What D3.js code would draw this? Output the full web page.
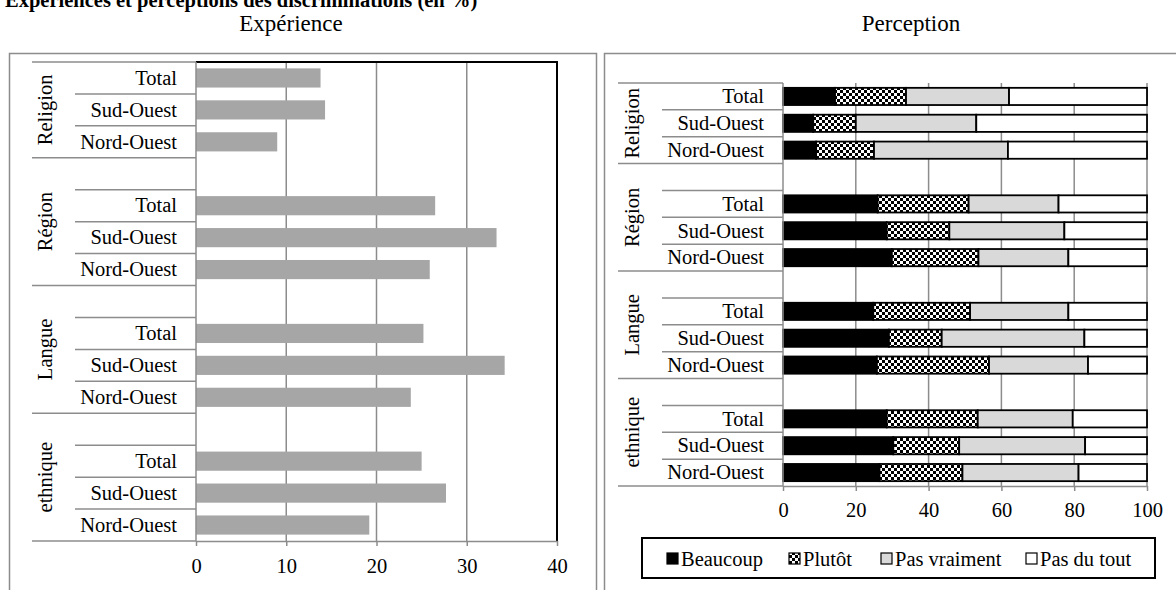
<!DOCTYPE html>
<html>
<head>
<meta charset="utf-8">
<title>Expériences et perceptions des discriminations</title>
<script src="https://d3js.org/d3.v7.min.js"></script>
<style>
  body { margin: 0; background: #fff; }
  text { font-family: "Liberation Serif", "Times New Roman", serif; fill: #000; }
</style>
</head>
<body>
<div id="chart"></div>
<script>
  // Categories
  const groups = ["Religion", "Région", "Langue", "ethnique"];
  const regions = ["Total", "Sud-Ouest", "Nord-Ouest"];

  // Expérience (%), order: group x region
  const experience = [13.8, 14.3, 9.0, 26.5, 33.3, 25.9, 25.2, 34.2, 23.8, 25.0, 27.7, 19.2];

  // Perception (%), same order
  const beaucoup    = [14.3, 8.3, 9.1, 26.0, 28.5, 29.9, 24.8, 29.1, 25.8, 28.5, 30.3, 26.5];
  const plutot      = [19.5, 11.7, 15.9, 25.0, 17.2, 23.8, 26.6, 14.5, 30.8, 25.0, 18.1, 22.8];
  const pasVraiment = [28.3, 33.1, 36.8, 24.7, 31.6, 24.7, 27.0, 39.2, 27.2, 26.1, 34.6, 31.9];
  const pasDuTout   = [37.9, 46.9, 38.2, 24.3, 22.7, 21.6, 21.6, 17.2, 16.2, 20.4, 17.0, 18.8];

  const seriesNames = ["Beaucoup", "Plutôt", "Pas vraiment", "Pas du tout"];
  const expTicks = [0, 10, 20, 30, 40];
  const percTicks = [0, 20, 40, 60, 80, 100];

  const width = 1176, height = 590;
  const gridColor = "#8c8c8c";
  const fontSize = 20.5;

  const svg = d3.select("#chart")
    .append("svg")
    .attr("width", width)
    .attr("height", height);

  // checker pattern for "Plutôt"
  const pat = svg.append("defs").append("pattern")
    .attr("id", "checker")
    .attr("patternUnits", "userSpaceOnUse")
    .attr("width", 6).attr("height", 6);
  pat.append("rect").attr("width", 6).attr("height", 6).attr("fill", "#fff");
  pat.append("rect").attr("width", 3).attr("height", 3).attr("fill", "#000");
  pat.append("rect").attr("x", 3).attr("y", 3).attr("width", 3).attr("height", 3).attr("fill", "#000");

  const fills = ["#000", "url(#checker)", "#d9d9d9", "#fff"];

  // rows of the category axis (a blank row before each group except the first)
  const rows = [];
  groups.forEach((g, gi) => {
    if (gi > 0) rows.push({ key: g + "|", group: g, label: "" });
    regions.forEach((r, ri) => rows.push({ key: g + "|" + r, group: g, label: r, i: gi * 3 + ri }));
  });
  const dataRows = rows.filter(d => d.label !== "");

  // Main title (sits at the very top, like the original)
  svg.append("text")
    .attr("x", 5)
    .attr("y", 7)
    .style("font-size", "20.5px")
    .style("font-weight", "bold")
    .text("Expériences et perceptions des discriminations (en %)");

  // panel frames
  svg.append("rect")
    .attr("x", 9.5).attr("y", 53.5)
    .attr("width", 587).attr("height", 560)
    .attr("fill", "none").attr("stroke", gridColor).attr("stroke-width", 1.5);
  svg.append("rect")
    .attr("x", 604.5).attr("y", 53.5)
    .attr("width", 590).attr("height", 560)
    .attr("fill", "none").attr("stroke", gridColor).attr("stroke-width", 1.5);

  // panel titles
  svg.append("text")
    .attr("x", 291).attr("y", 31)
    .attr("text-anchor", "middle")
    .style("font-size", "23px")
    .text("Expérience");
  svg.append("text")
    .attr("x", 911).attr("y", 31)
    .attr("text-anchor", "middle")
    .style("font-size", "23px")
    .text("Perception");

  // Draws the two-level category axis on the left of a plot
  function drawCategories(y, x0, xGroupLine, xInnerLine, xGroupLabel) {
    const step = y.step();
    const g = svg.append("g");
    groups.forEach((grp, gi) => {
      const gRows = rows.filter(d => d.group === grp);
      const top = y(gRows[0].key);
      const bottom = y(gRows[gRows.length - 1].key) + step;
      if (gi === 0) {
        g.append("line")
          .attr("x1", xGroupLine).attr("x2", x0)
          .attr("y1", top).attr("y2", top)
          .attr("stroke", gridColor).attr("stroke-width", 1.5);
      }
      g.append("line")
        .attr("x1", xGroupLine).attr("x2", x0)
        .attr("y1", bottom).attr("y2", bottom)
        .attr("stroke", gridColor).attr("stroke-width", 1.5);
      gRows.slice(0, -1).forEach(r => {
        const yy = y(r.key) + step;
        g.append("line")
          .attr("x1", xInnerLine).attr("x2", x0)
          .attr("y1", yy).attr("y2", yy)
          .attr("stroke", gridColor).attr("stroke-width", 1.5);
      });
      g.append("text")
        .attr("transform", `translate(${xGroupLabel}, ${(top + bottom) / 2}) rotate(-90)`)
        .attr("text-anchor", "middle")
        .attr("dy", "0.33em")
        .style("font-size", fontSize + "px")
        .text(grp);
    });
    g.selectAll(".rowlabel")
      .data(dataRows)
      .enter()
      .append("text")
      .attr("x", x0 - 19)
      .attr("y", d => y(d.key) + step / 2)
      .attr("dy", "0.33em")
      .attr("text-anchor", "end")
      .style("font-size", fontSize + "px")
      .text(d => d.label);
  }

  // Bottom value axis with gray line and ticks
  function drawValueAxis(x, yPos, ticks, padding) {
    const ax = svg.append("g")
      .attr("transform", `translate(0, ${yPos})`)
      .call(d3.axisBottom(x).tickValues(ticks).tickSize(5).tickSizeOuter(0).tickPadding(padding));
    ax.select(".domain").attr("stroke", gridColor).attr("stroke-width", 1.5);
    ax.selectAll(".tick line").attr("stroke", gridColor).attr("stroke-width", 1.5);
    ax.selectAll(".tick text")
      .style("font-size", fontSize + "px")
      .style("font-family", '"Liberation Serif", "Times New Roman", serif');
  }

  // ---------- Expérience ----------
  const xExp = d3.scaleLinear().domain([0, 40]).range([196, 557]);
  const yExp = d3.scaleBand().domain(rows.map(d => d.key)).range([62, 541]);

  // gridlines
  svg.append("g").selectAll("line")
    .data(expTicks.filter(t => t > 0 && t < 40))
    .enter()
    .append("line")
    .attr("x1", d => xExp(d)).attr("x2", d => xExp(d))
    .attr("y1", 62).attr("y2", 541)
    .attr("stroke", gridColor).attr("stroke-width", 1.5);

  // bars
  const expBarH = yExp.step() * 0.6;
  svg.append("g").selectAll("rect")
    .data(dataRows)
    .enter()
    .append("rect")
    .attr("x", xExp(0))
    .attr("y", d => yExp(d.key) + (yExp.step() - expBarH) / 2)
    .attr("width", d => xExp(experience[d.i]) - xExp(0))
    .attr("height", expBarH)
    .attr("fill", "#a6a6a6");

  // plot frame: black top and right, gray left axis
  svg.append("path")
    .attr("d", `M${xExp(0)},62H${xExp(40)}V541`)
    .attr("fill", "none").attr("stroke", "#000").attr("stroke-width", 2);
  svg.append("line")
    .attr("x1", xExp(0)).attr("x2", xExp(0))
    .attr("y1", 62).attr("y2", 541)
    .attr("stroke", gridColor).attr("stroke-width", 1.5);

  drawValueAxis(xExp, 541, expTicks, 12.5);
  drawCategories(yExp, 196, 32, 75, 45);

  // ---------- Perception ----------
  const xPerc = d3.scaleLinear().domain([0, 100]).range([783, 1147]);
  const yPerc = d3.scaleBand().domain(rows.map(d => d.key)).range([83, 486]);

  svg.append("g").selectAll("line")
    .data(percTicks.filter(t => t > 0))
    .enter()
    .append("line")
    .attr("x1", d => xPerc(d)).attr("x2", d => xPerc(d))
    .attr("y1", 83).attr("y2", 486)
    .attr("stroke", gridColor).attr("stroke-width", 1.5);

  const percTable = dataRows.map(d => ({
    key: d.key,
    "Beaucoup": beaucoup[d.i],
    "Plutôt": plutot[d.i],
    "Pas vraiment": pasVraiment[d.i],
    "Pas du tout": pasDuTout[d.i]
  }));
  const stacked = d3.stack().keys(seriesNames)(percTable);

  const percBarH = yPerc.step() * 0.64;
  svg.append("g").selectAll("g")
    .data(stacked)
    .enter()
    .append("g")
    .attr("fill", (d, i) => fills[i])
    .selectAll("rect")
    .data(d => d)
    .enter()
    .append("rect")
    .attr("x", d => xPerc(d[0]))
    .attr("y", d => yPerc(d.data.key) + (yPerc.step() - percBarH) / 2)
    .attr("width", d => xPerc(d[1]) - xPerc(d[0]))
    .attr("height", percBarH)
    .attr("stroke", "#000")
    .attr("stroke-width", 1.8);

  svg.append("line")
    .attr("x1", xPerc(0)).attr("x2", xPerc(0))
    .attr("y1", 83).attr("y2", 486)
    .attr("stroke", gridColor).attr("stroke-width", 1.5);

  drawValueAxis(xPerc, 486, percTicks, 11.5);
  drawCategories(yPerc, 783, 618, 662, 632);

  // legend
  const legend = svg.append("g");
  legend.append("rect")
    .attr("x", 642).attr("y", 538)
    .attr("width", 513).attr("height", 40)
    .attr("fill", "#fff").attr("stroke", "#000").attr("stroke-width", 2);

  // left edge of each legend entry's marker
  const legendX = [667, 789, 881, 1026];
  seriesNames.forEach((name, i) => {
    legend.append("rect")
      .attr("x", legendX[i]).attr("y", 553)
      .attr("width", 11).attr("height", 11)
      .attr("fill", fills[i])
      .attr("stroke", "#000").attr("stroke-width", 1.2);
    legend.append("text")
      .attr("x", legendX[i] + 14).attr("y", 566)
      .style("font-size", fontSize + "px")
      .text(name);
  });
</script>
</body>
</html>
